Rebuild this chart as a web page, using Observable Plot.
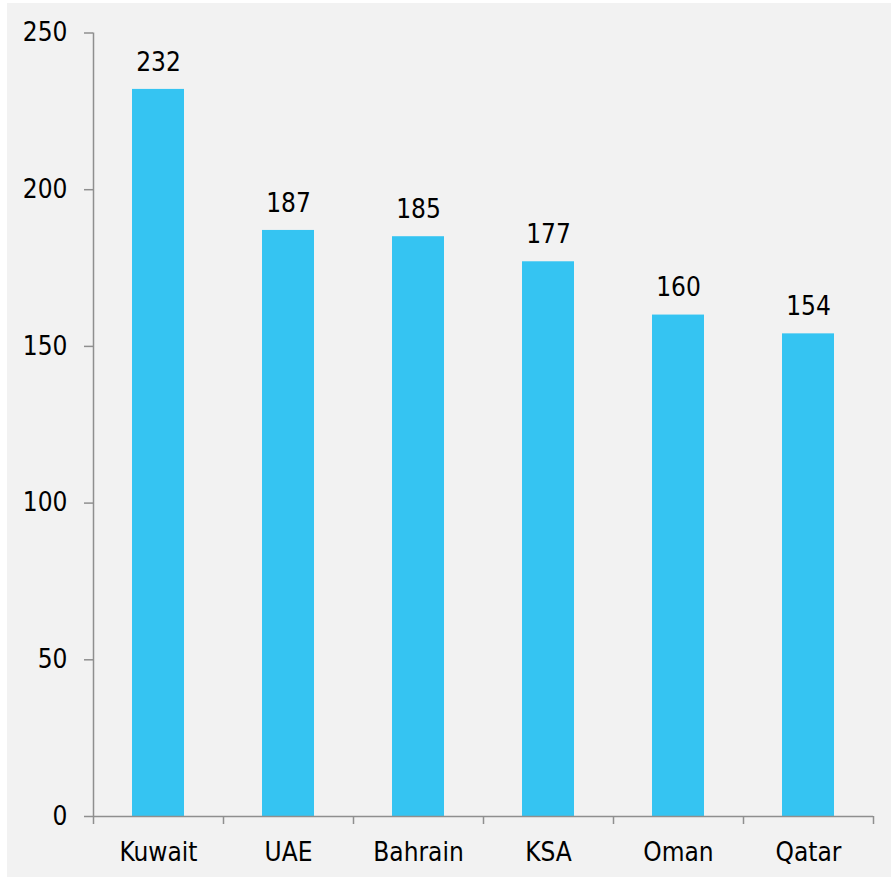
<!DOCTYPE html>
<html>
<head>
<meta charset="utf-8">
<script src="https://cdn.jsdelivr.net/npm/d3@7"></script>
<script src="https://cdn.jsdelivr.net/npm/@observablehq/plot@0.6"></script>
<style>
  html, body { margin: 0; padding: 0; background: #ffffff; }
  #chart { position: absolute; left: 7px; top: 3px; width: 884px; height: 874px; background: #f2f2f2; }
  #chart svg { display: block; }
</style>
</head>
<body>
<div id="chart"></div>
<script>
const categories = ["Kuwait", "UAE", "Bahrain", "KSA", "Oman", "Qatar"];
const values = [232, 187, 185, 177, 160, 154];
const yTicks = [0, 50, 100, 150, 200, 250];

const data = categories.map((c, i) => ({ category: c, index: i, value: values[i] }));
const boundaries = d3.range(categories.length + 1);
const centers = categories.map((c, i) => i + 0.5);

const font = "'DejaVu Sans Condensed', 'DejaVu Sans', sans-serif";
const axisColor = "#8f8f8f";
const barColor = "#35c4f2";
const fs = 26;

const plot = Plot.plot({
  width: 884,
  height: 874,
  marginLeft: 86,
  marginRight: 18,
  marginTop: 29.5,
  marginBottom: 61,
  style: { background: "transparent", fontFamily: font, fontSize: fs + "px", color: "#000" },
  x: { type: "linear", domain: [0, categories.length], axis: null },
  y: { domain: [0, 250], axis: null },
  marks: [
    Plot.rectY(data, {
      x1: d => d.index + 0.3,
      x2: d => d.index + 0.7,
      y: "value",
      fill: barColor
    }),
    Plot.ruleY([0], { stroke: axisColor, strokeWidth: 1.5 }),
    Plot.ruleX([0], { stroke: axisColor, strokeWidth: 1.5 }),
    Plot.axisY({
      ticks: yTicks,
      label: null,
      tickSize: 9,
      tickPadding: 17,
      stroke: axisColor,
      strokeWidth: 1.5,
      fill: "#000",
      fontSize: fs,
      fontFamily: font
    }),
    Plot.axisX({
      ticks: boundaries,
      label: null,
      tickSize: 8,
      tickFormat: () => "",
      stroke: axisColor,
      strokeWidth: 1.5
    }),
    Plot.axisX({
      ticks: centers,
      label: null,
      tickSize: 0,
      tickPadding: 26,
      tickFormat: v => categories[Math.floor(v)],
      fill: "#000",
      fontSize: fs,
      fontFamily: font
    }),
    Plot.text(data, {
      x: d => d.index + 0.5,
      y: "value",
      text: d => String(d.value),
      dy: -27,
      fill: "#000",
      fontSize: fs,
      fontFamily: font
    })
  ]
});

document.getElementById("chart").appendChild(plot);
</script>
</body>
</html>
